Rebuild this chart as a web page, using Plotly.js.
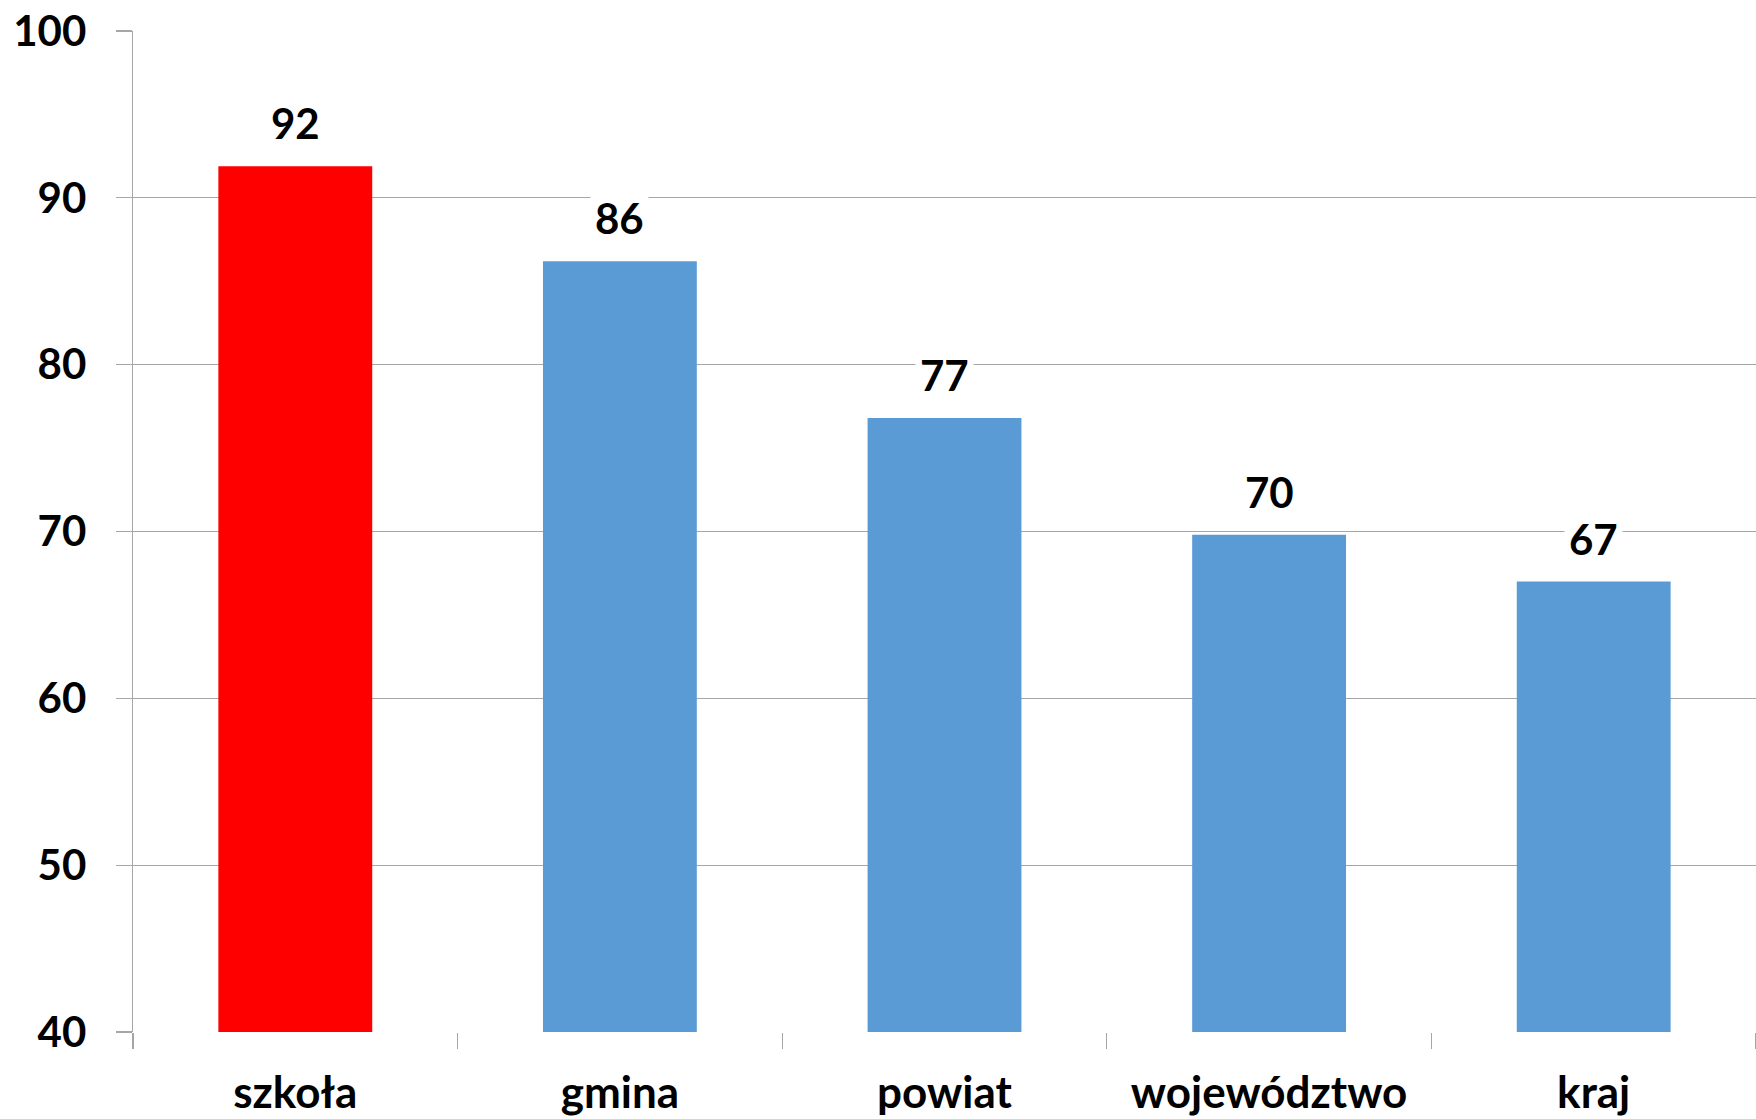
<!DOCTYPE html>
<html>
<head>
<meta charset="utf-8">
<script src="https://cdn.plot.ly/plotly-3.0.1.min.js"></script>
<style>html,body{margin:0;padding:0;background:#fff;}#chart{width:1756px;height:1119px;}</style>
</head>
<body>
<div id="chart"></div>
<script>
const categories = ["szkoła", "gmina", "powiat", "województwo", "kraj"];
const values = [91.9, 86.2, 76.8, 69.8, 67.0];
const barColors = ["#FF0000", "#5B9BD5", "#5B9BD5", "#5B9BD5", "#5B9BD5"];
const yTickValues = [40, 50, 60, 70, 80, 90, 100];

const FONT = "Lato, 'Open Sans', 'Liberation Sans', sans-serif";
const gridColor = "#A6A6A6";

const trace = {
  type: "bar",
  x: categories,
  y: values,
  marker: { color: barColors },
  width: 0.474,
  hoverinfo: "x+y"
};

const annotations = categories.map((c, i) => ({
  x: c,
  y: values[i],
  xref: "x",
  yref: "y",
  text: "<b>" + Math.round(values[i]) + "</b>",
  showarrow: false,
  yanchor: "bottom",
  yshift: 13,
  bgcolor: "#FFFFFF",
  borderpad: 4,
  font: { family: FONT, size: 42, color: "#000000" }
}));

const layout = {
  width: 1756,
  height: 1119,
  margin: { l: 133, r: 0, t: 31, b: 87 },
  paper_bgcolor: "#FFFFFF",
  plot_bgcolor: "#FFFFFF",
  showlegend: false,
  bargap: 0.526,
  xaxis: {
    type: "category",
    tickson: "boundaries",
    ticks: "outside",
    ticklen: 16,
    tickwidth: 1.3,
    tickcolor: gridColor,
    showgrid: false,
    showline: false,
    zeroline: false,
    ticklabelstandoff: 31,
    tickfont: { family: FONT, size: 44, color: "#000000", weight: "bold" }
  },
  yaxis: {
    range: [40, 100],
    tickvals: yTickValues,
    ticktext: yTickValues.map(String),
    ticks: "outside",
    ticklen: 16,
    tickwidth: 1.3,
    tickcolor: gridColor,
    showgrid: true,
    gridcolor: gridColor,
    gridwidth: 1.3,
    showline: true,
    linecolor: gridColor,
    linewidth: 1.3,
    zeroline: false,
    ticklabelstandoff: 21,
    tickfont: { family: FONT, size: 42, color: "#000000", weight: "bold" }
  },
  annotations: annotations
};

Plotly.newPlot("chart", [trace], layout, { displayModeBar: false, staticPlot: true });
</script>
</body>
</html>
